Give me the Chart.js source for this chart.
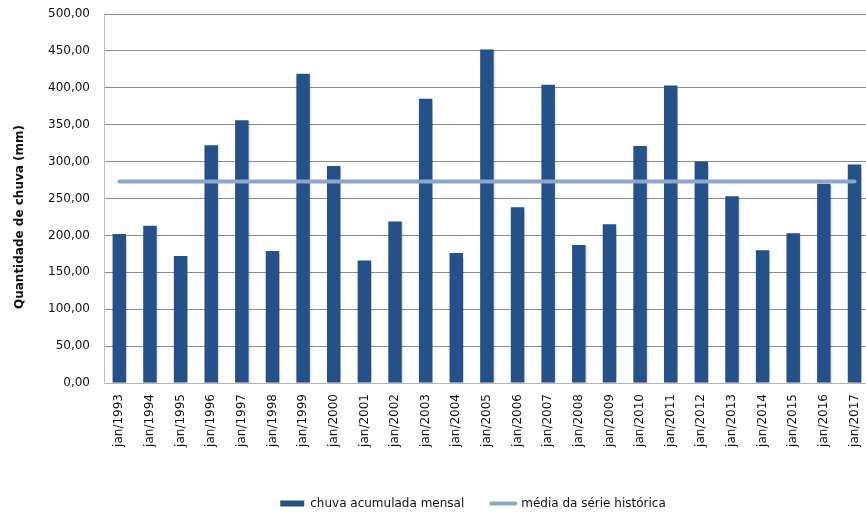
<!DOCTYPE html>
<html lang="pt-BR">
<head>
<meta charset="utf-8">
<title>Chuva acumulada em janeiro</title>
<script src="https://cdn.jsdelivr.net/npm/chart.js@4/dist/chart.umd.min.js"></script>
<style>
  html, body { margin: 0; padding: 0; background: #ffffff; overflow: hidden; }
  #wrap { width: 880px; height: 515px; }
</style>
</head>
<body>
<div id="wrap"><canvas id="grafico" width="880" height="515"></canvas></div>
<script>
// Rótulos do eixo das categorias (janeiro de cada ano)
const categorias = [
  'jan/1993', 'jan/1994', 'jan/1995', 'jan/1996', 'jan/1997', 'jan/1998',
  'jan/1999', 'jan/2000', 'jan/2001', 'jan/2002', 'jan/2003', 'jan/2004',
  'jan/2005', 'jan/2006', 'jan/2007', 'jan/2008', 'jan/2009', 'jan/2010',
  'jan/2011', 'jan/2012', 'jan/2013', 'jan/2014', 'jan/2015', 'jan/2016',
  'jan/2017'
];

// Chuva acumulada no mês de janeiro (mm)
const chuvaMensal = [
  202, 213, 172, 322, 356, 179,
  419, 294, 166, 219, 385, 176,
  452, 238, 404, 187, 215, 321,
  403, 300, 253, 180, 203, 270,
  296
];

// Média da série histórica (mm)
const mediaHistorica = 272.9;

const nomeSerieChuva = 'chuva acumulada mensal';
const nomeSerieMedia = 'média da série histórica';
const tituloEixoY = 'Quantidade de chuva (mm)';

const FONTE = 'DejaVu Sans';
const COR_BARRA = '#25518a';
const COR_MEDIA = '#8ea5ce';

// Título do eixo vertical, centrado na altura do gráfico inteiro
const tituloVertical = {
  id: 'tituloVertical',
  afterDraw(chart) {
    const ctx = chart.ctx;
    ctx.save();
    ctx.translate(20, 217);
    ctx.rotate(-Math.PI / 2);
    ctx.font = 'bold 12px "' + FONTE + '"';
    ctx.fillStyle = '#111111';
    ctx.textAlign = 'center';
    ctx.textBaseline = 'middle';
    ctx.fillText(tituloEixoY, 0, 0);
    ctx.restore();
  }
};

// Posiciona a legenda no centro desejado
const posicaoLegenda = {
  id: 'posicaoLegenda',
  afterLayout(chart, args, opts) {
    const lg = chart.legend;
    if (!lg) return;
    const dx = opts.centroX - (lg.left + lg.right) / 2;
    lg.left += dx; lg.right += dx;
    lg.top += opts.dy; lg.bottom += opts.dy;
  }
};

// Sombra leve sob as colunas
const sombraBarras = {
  id: 'sombraBarras',
  beforeDatasetDraw(chart, args) {
    if (args.meta.type !== 'bar') return;
    const ctx = chart.ctx;
    ctx.save();
    ctx.shadowColor = 'rgba(0,0,0,0.16)';
    ctx.shadowBlur = 1.5;
    ctx.shadowOffsetX = 1;
    ctx.shadowOffsetY = 1;
  },
  afterDatasetDraw(chart, args) {
    if (args.meta.type !== 'bar') return;
    chart.ctx.restore();
  }
};

const formatoBR = v => v.toFixed(2).replace('.', ',');

new Chart(document.getElementById('grafico'), {
  type: 'bar',
  data: {
    labels: categorias,
    datasets: [
      {
        type: 'bar',
        label: nomeSerieChuva,
        data: chuvaMensal,
        backgroundColor: COR_BARRA,
        borderWidth: 0,
        barPercentage: 0.44,
        categoryPercentage: 1.0,
        order: 2
      },
      {
        type: 'line',
        label: nomeSerieMedia,
        data: categorias.map(() => mediaHistorica),
        borderColor: COR_MEDIA,
        backgroundColor: COR_MEDIA,
        borderWidth: 4,
        borderCapStyle: 'round',
        pointRadius: 0,
        pointHoverRadius: 0,
        fill: false,
        tension: 0,
        order: 1
      }
    ]
  },
  options: {
    responsive: false,
    animation: false,
    devicePixelRatio: 1,
    layout: { padding: { top: 14, left: 0, right: 5, bottom: 0 } },
    plugins: {
      tooltip: { enabled: false },
      posicaoLegenda: { centroX: 473, dy: 4.5 },
      legend: {
        position: 'bottom',
        labels: {
          font: { family: FONTE, size: 12 },
          color: '#111111',
          usePointStyle: true,
          pointStyleWidth: 24,
          boxHeight: 6,
          padding: 27,
          generateLabels(chart) {
            const itens = Chart.defaults.plugins.legend.labels.generateLabels(chart);
            itens.forEach(it => {
              if (it.datasetIndex === 0) {
                it.pointStyle = 'rect';
                it.lineWidth = 0;
              } else {
                it.pointStyle = 'line';
                it.lineCap = 'round';
              }
            });
            return itens.sort((a, b) => a.datasetIndex - b.datasetIndex);
          }
        }
      }
    },
    scales: {
      x: {
        offset: true,
        grid: { display: false, drawTicks: false },
        border: { display: true, color: '#b5b5b5', width: 1 },
        ticks: {
          font: { family: FONTE, size: 12 },
          color: '#111111',
          minRotation: 90,
          maxRotation: 90,
          autoSkip: false,
          padding: 11
        },
        afterFit(scale) { scale.height = 83; }
      },
      y: {
        min: 0,
        max: 500,
        grid: {
          color: ctx => (ctx.tick && ctx.tick.value === 0 ? '#b5b5b5' : '#8c8c8c'),
          lineWidth: 1,
          drawTicks: false
        },
        border: { display: true, color: '#bdbdbd', width: 1 },
        ticks: {
          stepSize: 50,
          font: { family: FONTE, size: 12 },
          color: '#111111',
          padding: 14,
          callback: v => formatoBR(v)
        },
        afterFit(scale) {
          scale.width = 104;
          scale.paddingTop = 0;
          scale.paddingBottom = 0;
        }
      }
    }
  },
  plugins: [tituloVertical, posicaoLegenda, sombraBarras]
});
</script>
</body>
</html>
